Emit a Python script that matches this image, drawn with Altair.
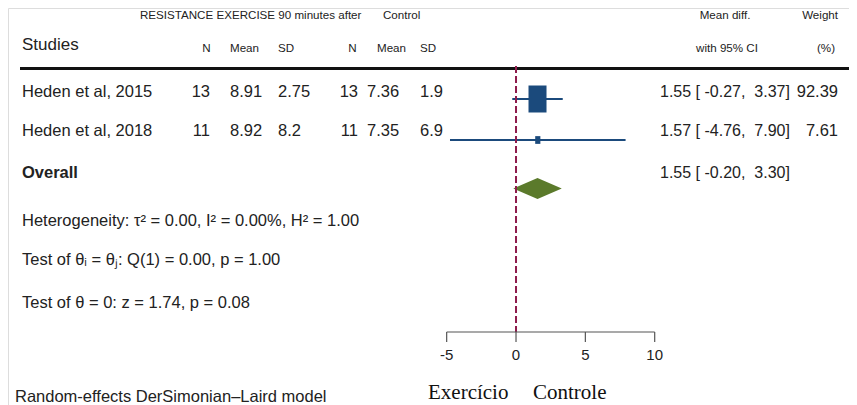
import altair as alt
import pandas as pd

# ---------------- data ----------------
studies = ["Heden et al, 2015", "Heden et al, 2018"]
exer_n = ["13", "11"]
exer_mean = ["8.91", "8.92"]
exer_sd = ["2.75", "8.2"]
ctrl_n = ["13", "11"]
ctrl_mean = ["7.36", "7.35"]
ctrl_sd = ["1.9", "6.9"]
md = [1.55, 1.57]
ci_lo = [-0.27, -4.76]
ci_hi = [3.37, 7.90]
weights = [92.39, 7.61]
overall_md = [1.55]
overall_lo = [-0.20]
overall_hi = [3.30]
axis_ticks = [-5, 0, 5, 10]
header_top = ["RESISTANCE EXERCISE 90 minutes after", "Control", "Mean diff.", "Weight"]
header_cols = ["Studies", "N", "Mean", "SD", "N", "Mean", "SD", "with 95% CI", "(%)"]
overall_label = ["Overall"]
stats_lines = [
    "Heterogeneity: \u03c4\u00b2 = 0.00, I\u00b2 = 0.00%, H\u00b2 = 1.00",
    "Test of \u03b8\u1d62 = \u03b8\u2c7c: Q(1) = 0.00, p = 1.00",
    "Test of \u03b8 = 0: z = 1.74, p = 0.08",
]
model_note = ["Random-effects DerSimonian\u2013Laird model"]
side_labels = ["Exerc\u00edcio", "Controle"]

# ---------------- tables ----------------
def fmt_ci(m, l, h):
    return f"{m:.2f} [ {l:.2f},\u00a0 {h:.2f}]"

df = pd.DataFrame({
    "study": studies, "n1": exer_n, "m1": exer_mean, "s1": exer_sd,
    "n2": ctrl_n, "m2": ctrl_mean, "s2": ctrl_sd,
    "md": md, "lo": ci_lo, "hi": ci_hi, "w": weights,
})
df["ci_txt"] = [fmt_ci(m, l, h) for m, l, h in zip(md, ci_lo, ci_hi)]
df["w_txt"] = [f"{w:.2f}" for w in weights]

ov = pd.DataFrame({"md": overall_md, "lo": overall_lo, "hi": overall_hi})
ov["ci_txt"] = [fmt_ci(m, l, h) for m, l, h in zip(overall_md, overall_lo, overall_hi)]
# diamond outline: left tip, centre, right tip with half-heights
diamond = pd.DataFrame({
    "x": [overall_lo[0], overall_md[0], overall_hi[0]],
    "top": [0, 1, 0],
    "bot": [0, -1, 0],
})
ticks_df = pd.DataFrame({"t": axis_ticks, "lab": [str(t) for t in axis_ticks]})
axis_df = pd.DataFrame({"a": [min(axis_ticks)], "b": [max(axis_ticks)]})

W, H = 841, 397
SANS = "Liberation Sans, Arial"
SERIF = "Liberation Serif, Times New Roman"
TXT = "#222222"
BLUE = "#1b4a7c"
GREEN = "#5b7a2b"
RED = "#8e1c4c"
BIG = 16.5
SMALL = 11.6

xs = alt.Scale(domain=[-36.63, 24.01], nice=False, zero=False)


def X(field):
    return alt.X(field, scale=xs, axis=None)


def label(s, x, y, size=BIG, align="left", weight="normal", font=SANS, color=TXT):
    return alt.Chart(pd.DataFrame({"t": [s]})).mark_text(
        align=align, baseline="alphabetic", fontSize=size, font=font,
        fontWeight=weight, color=color,
    ).encode(x=alt.value(x), y=alt.value(y), text="t:N")


layers = []

# header
layers.append(label(header_top[0], 132, 11, SMALL))
layers.append(label(header_top[1], 375, 11, SMALL))
layers.append(label(header_top[2], 717, 11, SMALL, align="center"))
layers.append(label(header_top[3], 830, 11, SMALL, align="right"))
layers.append(label(header_cols[0], 14, 42, 17))
for s, x, a in zip(header_cols[1:7], [198.5, 222, 270, 344.5, 369, 412],
                   ["center", "left", "left", "center", "left", "left"]):
    layers.append(label(s, x, 44, SMALL, align=a))
layers.append(label(header_cols[7], 719, 44, SMALL, align="center"))
layers.append(label(header_cols[8], 827, 44, SMALL, align="right"))

# header rule
layers.append(alt.Chart(pd.DataFrame({"k": [0]})).mark_rule(color="#111", strokeWidth=3).encode(
    x=alt.value(12), x2=alt.value(849), y=alt.value(60.5)))

row_y = [91, 132]
row_base = [89, 128]
cols = [("study", 14, "left", BIG), ("n1", 202, "right", BIG), ("m1", 222, "left", BIG),
        ("s1", 270, "left", BIG), ("n2", 350, "right", BIG), ("m2", 359, "left", BIG),
        ("s2", 412, "left", BIG), ("ci_txt", 652, "left", 16), ("w_txt", 830, "right", 16.5)]

for i in range(len(studies)):
    r = df.iloc[[i]]
    base = alt.Chart(r)
    for f, x, a, sz in cols:
        layers.append(base.mark_text(align=a, baseline="alphabetic", fontSize=sz, font=SANS, color=TXT)
                      .encode(x=alt.value(x), y=alt.value(row_base[i]), text=f"{f}:N"))
    layers.append(base.mark_rule(color=BLUE, strokeWidth=2).encode(
        x=X("lo:Q"), x2="hi:Q", y=alt.value(row_y[i])))

# overall row
layers.append(label(overall_label[0], 14, 170, BIG, weight="bold"))
layers.append(alt.Chart(ov).mark_text(align="left", baseline="alphabetic", fontSize=16, font=SANS, color=TXT)
              .encode(x=alt.value(652), y=alt.value(170), text="ci_txt:N"))
layers.append(alt.Chart(diamond).mark_area(color=GREEN, opacity=1).encode(
    x=X("x:Q"),
    y=alt.Y("top:Q", scale=alt.Scale(domain=[-1, 1], range=[191, 170]), axis=None),
    y2="bot:Q"))

# null line
layers.append(alt.Chart(pd.DataFrame({"z": [0]})).mark_rule(color=RED, strokeWidth=2, strokeDash=[7, 3]).encode(
    x=X("z:Q"), y=alt.value(58), y2=alt.value(324)))

# study boxes (area ~ weight)
box = "M-0.667,-1H0.667V1H-0.667Z"
for i in range(len(studies)):
    r = df.iloc[[i]]
    layers.append(alt.Chart(r).mark_point(shape=box, filled=True, opacity=1, color=BLUE, strokeWidth=0).encode(
        x=X("md:Q"), y=alt.value(row_y[i]),
        size=alt.Size("w:Q", scale=alt.Scale(domain=[0, 100], range=[0, 789], zero=True), legend=None)))

# stats lines
for s, y in zip(stats_lines, [218, 257, 300]):
    layers.append(label(s, 14, y, BIG))
layers.append(label(model_note[0], 7, 394, BIG))

# axis
layers.append(alt.Chart(axis_df).mark_rule(color="#555", strokeWidth=1.2).encode(
    x=X("a:Q"), x2="b:Q", y=alt.value(324)))
layers.append(alt.Chart(ticks_df).mark_rule(color="#555", strokeWidth=1.2).encode(
    x=X("t:Q"), y=alt.value(324), y2=alt.value(334)))
layers.append(alt.Chart(ticks_df).mark_text(align="center", baseline="alphabetic", fontSize=15, font=SANS, color=TXT)
              .encode(x=X("t:Q"), y=alt.value(352), text="lab:N"))

# side labels
layers.append(label(side_labels[0], 420, 391, 21, font=SERIF, color="#111"))
layers.append(label(side_labels[1], 525, 391, 21, font=SERIF, color="#111"))

chart = alt.layer(*layers).properties(
    width=W, height=H, padding=0, autosize=alt.AutoSizeParams(type="none")
).configure_view(stroke=None).configure(background="white")

chart.save("out.html", embed_options={"renderer": "svg", "actions": False})
